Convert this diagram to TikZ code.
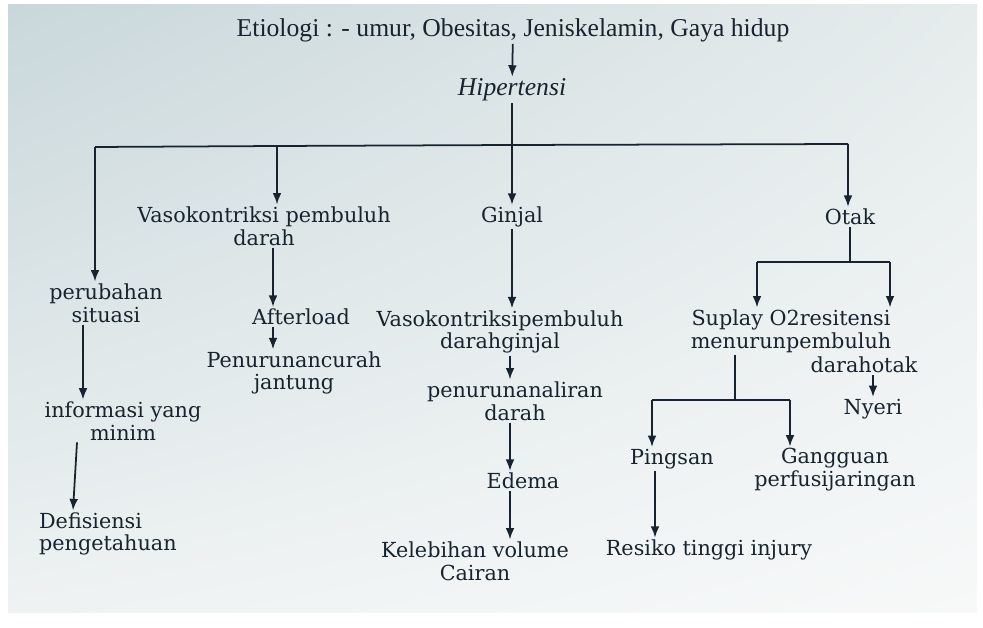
\documentclass[tikz,border=0pt]{standalone}
\usepackage{fontspec}
\setmainfont{Liberation Serif}
\newfontfamily\boxfont{DejaVu Serif}
\usepackage{tikz}
\usetikzlibrary{calc,arrows.meta,shadings}
\usetikzlibrary{positioning}
\definecolor{ink}{HTML}{17242F}
\definecolor{paperA}{HTML}{C9D7DB}
\definecolor{paperB}{HTML}{E6ECEC}
\definecolor{paperC}{HTML}{EEF2F2}
\definecolor{paperD}{HTML}{F7F9F9}

\begin{document}
\begin{tikzpicture}[x=0.02cm, y=-0.02cm,
  lbl/.style={font=\boxfont\fontsize{11.8}{13}\selectfont, text=ink, align=center, inner sep=1pt},
  toplbl/.style={font=\fontsize{14.6}{16}\selectfont, text=ink, inner sep=1pt},
  arr/.style={draw=ink, line width=1pt, -{Latex[length=6.5pt,width=5pt]}},
  ln/.style={draw=ink, line width=1pt}]
\useasboundingbox (0,0) rectangle (983,628);
\shade[upper left=paperA, upper right=paperB, lower left=paperC, lower right=paperD] (8,5) rectangle (977,612);

%% top
\node[toplbl] (etio) at (513,30) {Etiologi : - umur, Obesitas, Jeniskelamin, Gaya hidup};
\node[toplbl, font=\itshape\fontsize{14.6}{16}\selectfont] (hip) at (512,90) {Hipertensi};

%% first row
\node[lbl] (per) at (106,303) {perubahan\\situasi};
\node[lbl] (vaso) at (264,226) {Vasokontriksi pembuluh\\darah};
\node[lbl] (ginjal) at (512,217) {Ginjal};
\node[lbl] (otak) at (850,217) {Otak};

%% left branches
\node[lbl] (info) at (123,421) {informasi yang\\minim};
\node[lbl, align=left, anchor=west] (defi) at (37,534) {Defisiensi\\pengetahuan};
\node[lbl] (after) at (301,317) {Afterload};
\node[lbl] (pcur) at (294,373) {Penurunancurah\\jantung};

%% ginjal
\node[lbl] (vgin) at (500,332) {Vasokontriksipembuluh\\darahginjal};
\node[lbl] (pal) at (515,401) {penurunanaliran\\darah};
\node[lbl] (edema) at (523,481) {Edema};
\node[lbl] (keleb) at (475,561) {Kelebihan volume\\Cairan};

%% otak
\node[lbl] (sup) at (791,331) {Suplay O2resitensi\\menurunpembuluh};
\node[lbl] (darot) at (864,365) {darahotak};
\node[lbl] (nyeri) at (873,409) {Nyeri};
\node[lbl] (ping) at (672,459) {Pingsan};
\node[lbl] (gang) at (835,470) {Gangguan\\perfusijaringan};
\node[lbl] (resiko) at (709,550) {Resiko tinggi injury};

%% bus points
\coordinate (jH) at (512,145);
\coordinate (bA) at (95,147);
\coordinate (bB) at (277,146);
\coordinate (bD) at (848,144);
\coordinate (jO) at (850,262);
\coordinate (oL) at (757,262);
\coordinate (oR) at (890,262);
\coordinate (jS) at (735,400);
\coordinate (sL) at (652,400);
\coordinate (sR) at (790,400);

\draw[arr] (etio) -- (hip);
\draw[ln] (hip) -- (jH);
\draw[ln] (bA) -- (bB) -- (jH) -- (bD);
\draw[arr] (bA) -- (bA |- per.north);
\draw[arr] (bB) -- (bB |- vaso.north);
\draw[arr] (jH) -- (ginjal);
\draw[arr] (bD) -- (bD |- otak.north);

\draw[arr] (273,0 |- vaso.south) -- (273,0 |- after.north);
\draw[arr] (273,0 |- after.south) -- (273,0 |- pcur.north);
\draw[arr] (83,0 |- per.south) -- (83,0 |- info.north);
\draw[arr] (77,0 |- info.south) -- (73,0 |- defi.north);

\draw[arr] (ginjal) -- (512,0 |- vgin.north);
\draw[arr] (510,0 |- vgin.south) -- (510,0 |- pal.north);
\draw[arr] (510,0 |- pal.south) -- (510,0 |- edema.north);
\draw[arr] (510,0 |- edema.south) -- (510,0 |- keleb.north);

\draw[ln] (otak) -- (jO);
\draw[ln] (oL) -- (oR);
\draw[arr] (oL) -- (oL |- sup.north);
\draw[arr] (oR) -- (oR |- sup.north);
\draw[arr] (873,0 |- darot.south) -- (873,0 |- nyeri.north);
\draw[ln] (jS |- sup.south) -- (jS);
\draw[ln] (sL) -- (sR);
\draw[arr] (sL) -- (sL |- ping.north);
\draw[arr] (sR) -- (sR |- gang.north);
\draw[arr] (655,0 |- ping.south) -- (655,0 |- resiko.north);
\end{tikzpicture}
\end{document}
